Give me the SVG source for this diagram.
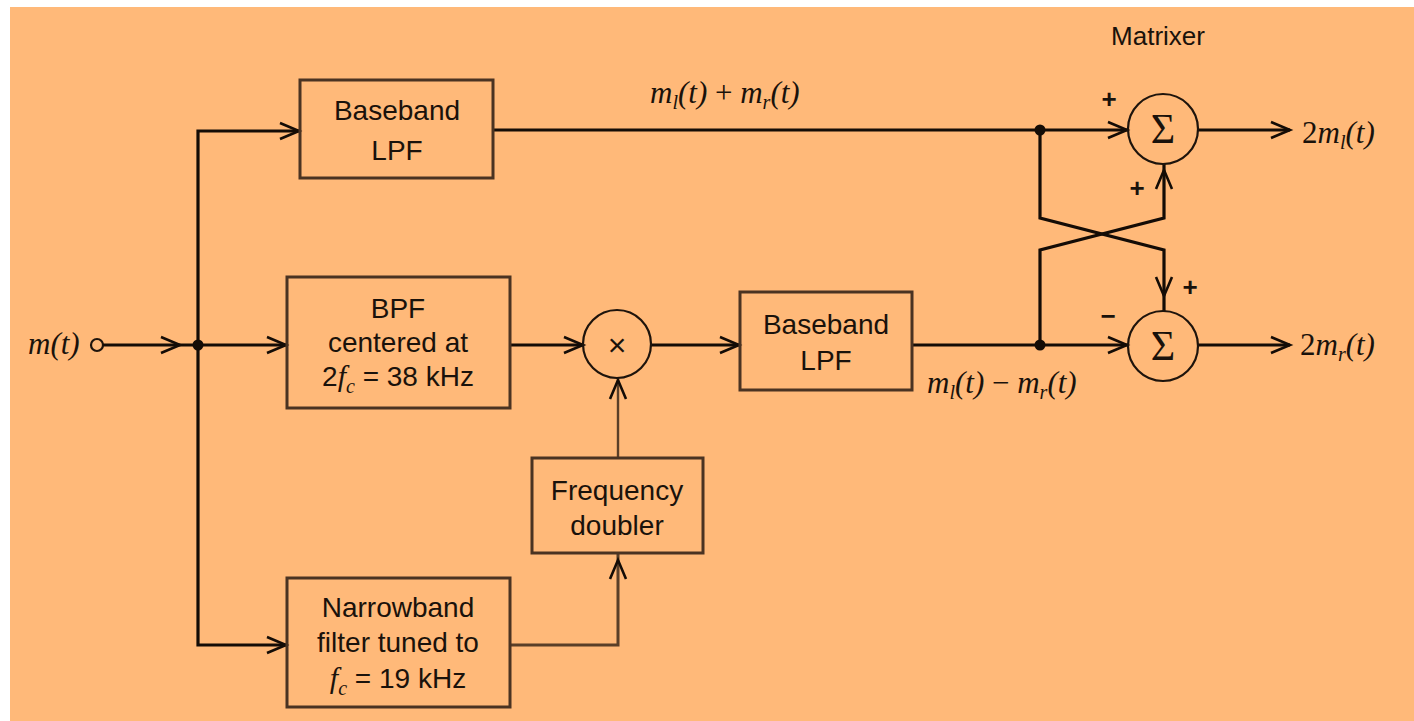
<svg xmlns="http://www.w3.org/2000/svg" xmlns:xlink="http://www.w3.org/1999/xlink" width="1414" height="721" viewBox="0 0 1414 721">
<style>
.box{fill:none;stroke:#4a3322;stroke-width:3}
.ln{fill:none;stroke:#140c06;stroke-width:3.2}
.thin{fill:none;stroke:#5a3f28;stroke-width:2.4}
.circ{fill:none;stroke:#1e140c;stroke-width:2.2}
.dot{fill:#140c06}
.t{font-family:"Liberation Sans",Arial,sans-serif;font-size:28px;fill:#1a120b;text-anchor:middle}
.m{font-family:"Liberation Serif","Times New Roman",serif;font-style:italic;font-size:31px;fill:#1a120b}
.r{font-family:"Liberation Serif","Times New Roman",serif;font-style:normal}
.s{font-family:"Liberation Sans",Arial,sans-serif;font-size:26px;fill:#1a120b;font-weight:bold;text-anchor:middle}
</style>
<defs>
<path id="ah" d="M-19,-8 L0,0 L-19,8" fill="none" stroke="#140c06" stroke-width="2.6"/>
</defs>
<rect x="0" y="0" width="1414" height="721" fill="#ffffff"/>
<rect x="10" y="7" width="1404" height="714" fill="#ffb979"/>

<g id="input">
<text class="m" x="28" y="354">m(t)</text>
<circle cx="97" cy="345" r="6" fill="none" stroke="#1e140c" stroke-width="2.2"/>
</g>

<g id="connectors">
<path class="ln" d="M103,345 H287"/>
<use xlink:href="#ah" transform="translate(180,345)"/>
<use xlink:href="#ah" transform="translate(286,345)"/>
<path class="ln" d="M300,131 H198 V645 H287"/>
<use xlink:href="#ah" transform="translate(299,131)"/>
<use xlink:href="#ah" transform="translate(286,645)"/>
<path class="ln" d="M510,345 H583"/>
<use xlink:href="#ah" transform="translate(583,345)"/>
<path class="ln" d="M651,345 H740"/>
<use xlink:href="#ah" transform="translate(739,345)"/>
<path class="ln" d="M493,130 H1128"/>
<use xlink:href="#ah" transform="translate(1127,130)"/>
<path class="ln" d="M912,345 H1128"/>
<use xlink:href="#ah" transform="translate(1127,345)"/>
<path class="ln" d="M1040,130 V218 L1164,250 V311"/>
<use xlink:href="#ah" transform="translate(1164,296) rotate(90)"/>
<path class="ln" d="M1040,345 V250 L1164,218 V164"/>
<use xlink:href="#ah" transform="translate(1164,170) rotate(-90)"/>
<path class="ln" d="M1198,130 H1290"/>
<use xlink:href="#ah" transform="translate(1290,130)"/>
<path class="ln" d="M1198,345 H1290"/>
<use xlink:href="#ah" transform="translate(1290,345)"/>
<path class="thin" d="M618,458 V379"/>
<use xlink:href="#ah" transform="translate(618,380) rotate(-90)"/>
<path class="thin" d="M510,645 H618 V554" style="stroke-width:3"/>
<use xlink:href="#ah" transform="translate(618,560) rotate(-90)"/>
<circle class="dot" cx="198" cy="345" r="5.5"/>
<circle class="dot" cx="1040" cy="130" r="5.5"/>
<circle class="dot" cx="1040" cy="345" r="5.5"/>
</g>

<g id="lpf1">
<rect class="box" x="300" y="80" width="193" height="98"/>
<text class="t" x="397" y="120">Baseband</text>
<text class="t" x="397" y="160">LPF</text>
</g>

<g id="bpf">
<rect class="box" x="287" y="277" width="223" height="131"/>
<text class="t" x="398" y="318">BPF</text>
<text class="t" x="398" y="352">centered at</text>
<text class="t" x="398" y="386"><tspan>2</tspan><tspan class="m" style="font-size:30px">f</tspan><tspan class="m" style="font-size:20px" dy="7">c</tspan><tspan dy="-7"> = 38 kHz</tspan></text>
</g>

<g id="mult">
<circle class="circ" cx="617" cy="344" r="34"/>
<text x="617" y="356" style="font-family:'Liberation Sans',Arial,sans-serif;font-size:32px;fill:#1a120b;text-anchor:middle">×</text>
</g>

<g id="lpf2">
<rect class="box" x="740" y="292" width="172" height="98"/>
<text class="t" x="826" y="334">Baseband</text>
<text class="t" x="826" y="370">LPF</text>
</g>

<g id="doubler">
<rect class="box" x="532" y="458" width="171" height="95"/>
<text class="t" x="617" y="500">Frequency</text>
<text class="t" x="617" y="535">doubler</text>
</g>

<g id="narrow">
<rect class="box" x="287" y="578" width="223" height="129"/>
<text class="t" x="398" y="617">Narrowband</text>
<text class="t" x="398" y="652">filter tuned to</text>
<text class="t" x="398" y="688"><tspan class="m" style="font-size:30px">f</tspan><tspan class="m" style="font-size:20px" dy="7">c</tspan><tspan dy="-7"> = 19 kHz</tspan></text>
</g>

<g id="sum1">
<circle class="circ" cx="1163" cy="129" r="35"/>
<text x="1163" y="143" style="font-family:'Liberation Serif',serif;font-size:42px;fill:#1a120b;text-anchor:middle">Σ</text>
</g>

<g id="sum2">
<circle class="circ" cx="1163" cy="346" r="35"/>
<text x="1163" y="360" style="font-family:'Liberation Serif',serif;font-size:42px;fill:#1a120b;text-anchor:middle">Σ</text>
</g>

<g id="labels">
<text x="1158" y="45" style="font-family:'Liberation Sans',Arial,sans-serif;font-size:26px;fill:#1a120b;text-anchor:middle">Matrixer</text>
<text class="s" x="1109" y="108">+</text>
<text class="s" x="1137" y="197">+</text>
<text class="s" x="1190" y="296">+</text>
<text class="s" x="1108" y="325">−</text>
<text class="m" x="650" y="103">m<tspan font-size="20" dy="6">l</tspan><tspan dy="-6">(t)</tspan><tspan class="r"> + </tspan>m<tspan font-size="20" dy="6">r</tspan><tspan dy="-6">(t)</tspan></text>
<text class="m" x="927" y="393">m<tspan font-size="20" dy="6">l</tspan><tspan dy="-6">(t)</tspan><tspan class="r"> − </tspan>m<tspan font-size="20" dy="6">r</tspan><tspan dy="-6">(t)</tspan></text>
<text class="m" x="1302" y="143"><tspan class="r">2</tspan>m<tspan font-size="20" dy="6">l</tspan><tspan dy="-6">(t)</tspan></text>
<text class="m" x="1300" y="355"><tspan class="r">2</tspan>m<tspan font-size="20" dy="6">r</tspan><tspan dy="-6">(t)</tspan></text>
</g>
</svg>
